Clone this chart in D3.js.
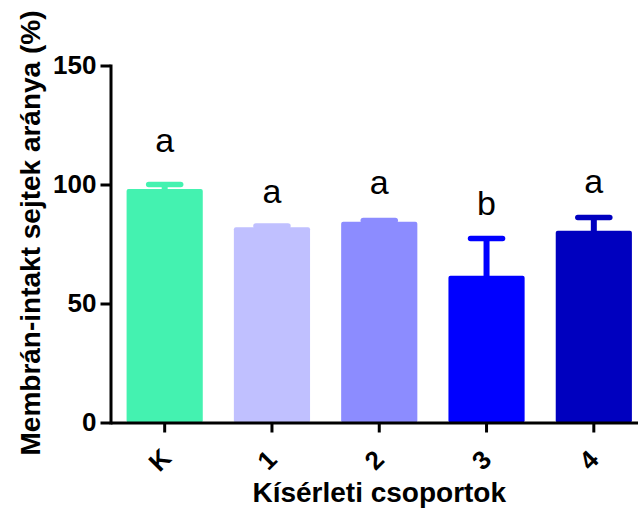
<!DOCTYPE html>
<html>
<head>
<meta charset="utf-8">
<script src="https://cdn.jsdelivr.net/npm/d3@7"></script>
<style>
  html, body { margin: 0; padding: 0; background: #fff; }
  svg { display: block; }
  text { font-family: "Liberation Sans", Arial, Helvetica, sans-serif; }
</style>
</head>
<body>
<svg id="chart" width="638" height="510"></svg>
<script>
// ---- data ----
const categories = ["K", "1", "2", "3", "4"];
const means = [98.1, 82.0, 84.3, 61.7, 80.6];
const errors = [1.9, 0.6, 0.6, 15.6, 5.5];
const letters = ["a", "a", "a", "b", "a"];
const letterAt = [113.8, 92.1, 95.9, 87.2, 96.4];
const yTicks = [0, 50, 100, 150];
const barColors = ["#44f2b0", "#c0c0ff", "#8c8cff", "#0000ff", "#0000bf"];
const yTitle = "Membrán-intakt sejtek aránya (%)";
const xTitle = "Kísérleti csoportok";

const svg = d3.select("#chart");

const x = d3.scaleBand()
  .domain(categories)
  .range([110.5, 648])
  .paddingInner(0.29)
  .paddingOuter(0.15);

const y = d3.scaleLinear()
  .domain([0, 150])
  .range([422.5, 65.5]);

const rows = categories.map((c, i) => ({
  cat: c, mean: means[i], err: errors[i], letter: letters[i],
  at: letterAt[i], color: barColors[i]
}));

// bars
svg.append("g").selectAll("rect")
  .data(rows)
  .join("rect")
  .attr("x", d => x(d.cat))
  .attr("y", d => y(d.mean))
  .attr("width", x.bandwidth())
  .attr("height", d => y(0) - y(d.mean))
  .attr("rx", 2)
  .attr("fill", d => d.color);

// error bars (upper only)
const eb = svg.append("g");
const cx = d => x(d.cat) + x.bandwidth() / 2;
eb.selectAll("line.stem")
  .data(rows)
  .join("line")
  .attr("class", "stem")
  .attr("x1", cx).attr("x2", cx)
  .attr("y1", d => y(d.mean) + 1)
  .attr("y2", d => y(d.mean + d.err))
  .attr("stroke", d => d.color)
  .attr("stroke-width", 6);
eb.selectAll("line.cap")
  .data(rows)
  .join("line")
  .attr("class", "cap")
  .attr("x1", d => cx(d) - 16).attr("x2", d => cx(d) + 16)
  .attr("y1", d => y(d.mean + d.err))
  .attr("y2", d => y(d.mean + d.err))
  .attr("stroke", d => d.color)
  .attr("stroke-width", 5.5)
  .attr("stroke-linecap", "round");

// significance letters
svg.append("g").selectAll("text")
  .data(rows)
  .join("text")
  .attr("x", cx)
  .attr("y", d => y(d.at))
  .attr("text-anchor", "middle")
  .attr("font-size", 34)
  .attr("fill", "#000")
  .text(d => d.letter);

// y axis
const yAxis = svg.append("g")
  .attr("transform", "translate(110.5,0)")
  .call(d3.axisLeft(y).tickValues(yTicks).tickSize(10).tickSizeOuter(0).tickPadding(4));
yAxis.select(".domain").attr("stroke-width", 3).attr("stroke-linecap", "square");
yAxis.selectAll(".tick line").attr("stroke-width", 3);
yAxis.selectAll(".tick text")
  .attr("font-size", 26).attr("font-weight", "bold")
  .attr("font-family", "Liberation Sans, Arial, sans-serif")
  .attr("fill", "#000");

// x axis
const xAxis = svg.append("g")
  .attr("transform", "translate(0,422.5)")
  .call(d3.axisBottom(x).tickSize(10).tickSizeOuter(0));
xAxis.select(".domain").attr("stroke-width", 3);
xAxis.selectAll(".tick line").attr("stroke-width", 3);
xAxis.selectAll(".tick text").remove();

// rotated category labels
svg.append("g").selectAll("text")
  .data(categories)
  .join("text")
  .attr("transform", c => `translate(${x(c) + x.bandwidth() / 2 - 5},460) rotate(-45)`)
  .attr("text-anchor", "middle")
  .attr("dominant-baseline", "central")
  .attr("font-size", 26)
  .attr("font-weight", "bold")
  .attr("fill", "#000")
  .text(c => c);

// axis titles
svg.append("text")
  .attr("transform", "translate(40,233) rotate(-90)")
  .attr("text-anchor", "middle")
  .attr("font-size", 28)
  .attr("font-weight", "bold")
  .attr("fill", "#000")
  .text(yTitle);

svg.append("text")
  .attr("x", (x.range()[0] + x.range()[1]) / 2)
  .attr("y", 502)
  .attr("text-anchor", "middle")
  .attr("font-size", 28)
  .attr("font-weight", "bold")
  .attr("fill", "#000")
  .text(xTitle);
</script>
</body>
</html>
